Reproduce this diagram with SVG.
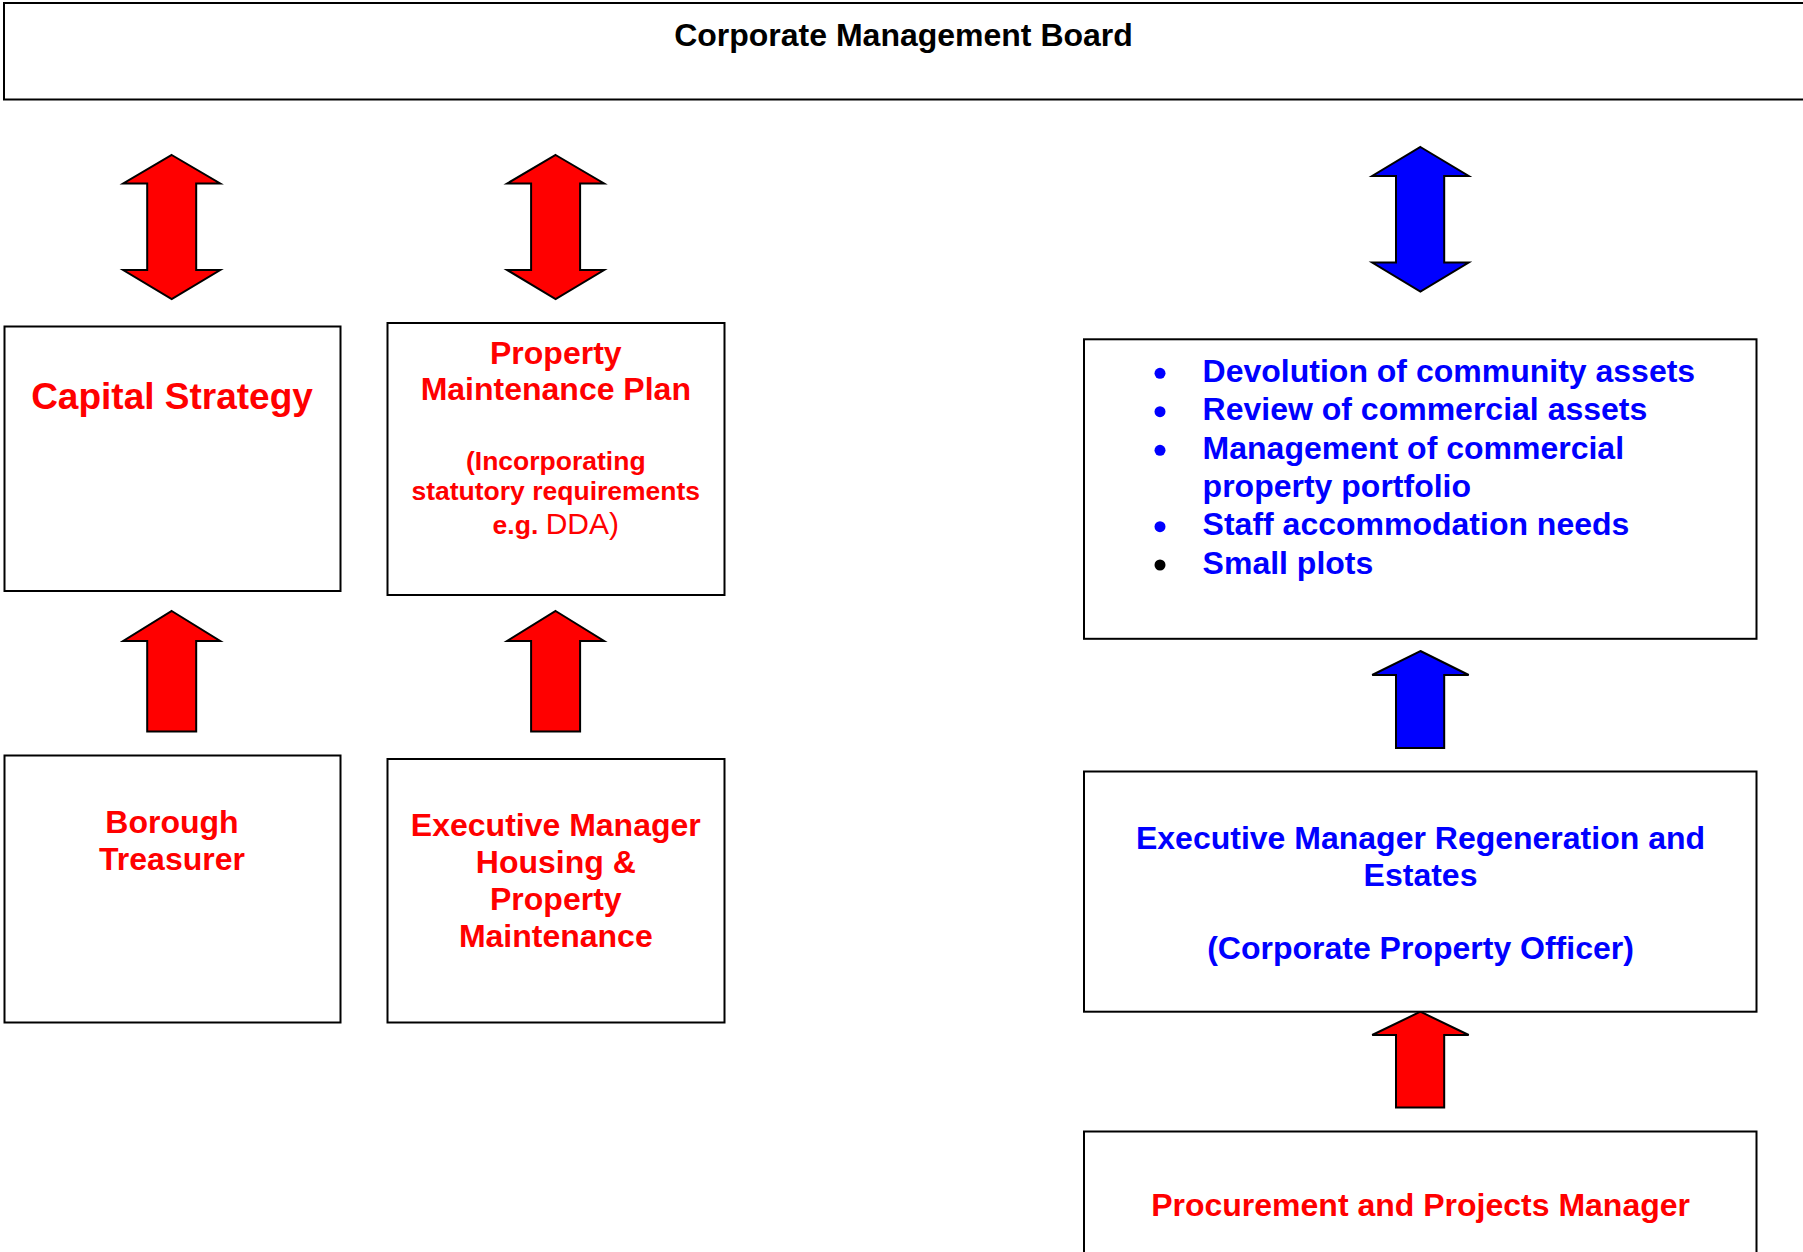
<svg xmlns="http://www.w3.org/2000/svg" width="1803" height="1252" viewBox="0 0 1803 1252">
  <style>
    .box { fill: #ffffff; stroke: #000000; stroke-width: 2; }
    .t { font-family: "Liberation Sans", Arial, sans-serif; font-weight: bold; font-size: 32px; text-anchor: middle; }
    .red { fill: #ff0000; }
    .blue { fill: #0000ff; }
    .black { fill: #000000; }
    .li { font-family: "Liberation Sans", Arial, sans-serif; font-weight: bold; font-size: 32px; fill: #0000ff; }
    .arrow-red { fill: #ff0000; stroke: #000000; stroke-width: 2; stroke-linejoin: miter; }
    .arrow-blue { fill: #0000ff; stroke: #000000; stroke-width: 2; stroke-linejoin: miter; }
  </style>
  <defs>
    <!-- two-headed block arrow, centred on x=0 -->
    <polygon id="dbl" points="0,155 48.5,183.5 24.5,183.5 24.5,270 48.5,270 0,299 -48.5,270 -24.5,270 -24.5,183.5 -48.5,183.5"/>
    <!-- single upward block arrow, centred on x=0 -->
    <polygon id="up" points="0,611 48.5,641 24.5,641 24.5,731.5 -24.5,731.5 -24.5,641 -48.5,641"/>
  </defs>

  <rect width="1803" height="1252" fill="#ffffff"/>

  <g id="connectors">
    <use href="#dbl" x="171.7" class="arrow-red"/>
    <use href="#dbl" x="555.6" class="arrow-red"/>
    <polygon class="arrow-blue" points="1420.4,147 1468.7,176 1444.2,176 1444.2,262.5 1468.7,262.5 1420.4,291.5 1372.2,262.5 1396,262.5 1396,176 1372.2,176"/>
    <use href="#up" x="171.7" class="arrow-red"/>
    <use href="#up" x="555.6" class="arrow-red"/>
    <polygon class="arrow-blue" points="1420.4,651 1468.7,675 1444.2,675 1444.2,748 1396,748 1396,675 1372.2,675"/>
    <polygon class="arrow-red" points="1420.4,1011.7 1468.7,1035 1444.2,1035 1444.2,1107.5 1396,1107.5 1396,1035 1372.2,1035"/>
  </g>

  <g id="corporate-management-board">
    <rect class="box" x="4" y="3" width="1820" height="96.5"/>
    <text class="t black" x="903.5" y="45.5">Corporate Management Board</text>
  </g>

  <g id="capital-strategy">
    <rect class="box" x="4.5" y="326.5" width="336" height="264.5"/>
    <text class="t red" x="172" y="409" style="font-size:37px">Capital Strategy</text>
  </g>

  <g id="property-maintenance-plan">
    <rect class="box" x="387.5" y="323" width="337" height="272"/>
    <text class="t red" x="555.8" y="364">Property</text>
    <text class="t red" x="555.8" y="400">Maintenance Plan</text>
    <text class="t red" x="555.8" y="470" style="font-size:26.5px">(Incorporating</text>
    <text class="t red" x="555.8" y="500" style="font-size:26.5px">statutory requirements</text>
    <text class="t red" x="555.8" y="534" style="font-size:26.5px">e.g. <tspan style="font-weight:normal;font-size:30px">DDA)</tspan></text>
  </g>

  <g id="borough-treasurer">
    <rect class="box" x="4.5" y="755.5" width="336" height="267"/>
    <text class="t red" x="172" y="832.5">Borough</text>
    <text class="t red" x="172" y="869.5">Treasurer</text>
  </g>

  <g id="executive-manager-housing">
    <rect class="box" x="387.5" y="759" width="337" height="263.5"/>
    <text class="t red" x="555.8" y="835.5">Executive Manager</text>
    <text class="t red" x="555.8" y="872.5">Housing &amp;</text>
    <text class="t red" x="555.8" y="909.5">Property</text>
    <text class="t red" x="555.8" y="946.5">Maintenance</text>
  </g>

  <g id="asset-responsibilities">
    <rect class="box" x="1084" y="339.3" width="672.5" height="299.5"/>
    <circle cx="1160" cy="373.3" r="5.5" class="blue"/>
    <circle cx="1160" cy="411.7" r="5.5" class="blue"/>
    <circle cx="1160" cy="450.3" r="5.5" class="blue"/>
    <circle cx="1160" cy="526.7" r="5.5" class="blue"/>
    <circle cx="1160" cy="565" r="5.5" class="black"/>
    <text class="li" x="1202.6" y="381.7">Devolution of community assets</text>
    <text class="li" x="1202.6" y="420">Review of commercial assets</text>
    <text class="li" x="1202.6" y="458.5">Management of commercial</text>
    <text class="li" x="1202.6" y="497">property portfolio</text>
    <text class="li" x="1202.6" y="535">Staff accommodation needs</text>
    <text class="li" x="1202.6" y="573.5">Small plots</text>
  </g>

  <g id="executive-manager-regeneration">
    <rect class="box" x="1084" y="771.5" width="672.5" height="240.2"/>
    <text class="t blue" x="1420.5" y="848.8">Executive Manager Regeneration and</text>
    <text class="t blue" x="1420.5" y="885.5">Estates</text>
    <text class="t blue" x="1420.5" y="959.3">(Corporate Property Officer)</text>
  </g>

  <g id="procurement-projects-manager">
    <rect class="box" x="1084" y="1131.5" width="672.5" height="140"/>
    <text class="t red" x="1420.6" y="1216">Procurement and Projects Manager</text>
  </g>
</svg>
